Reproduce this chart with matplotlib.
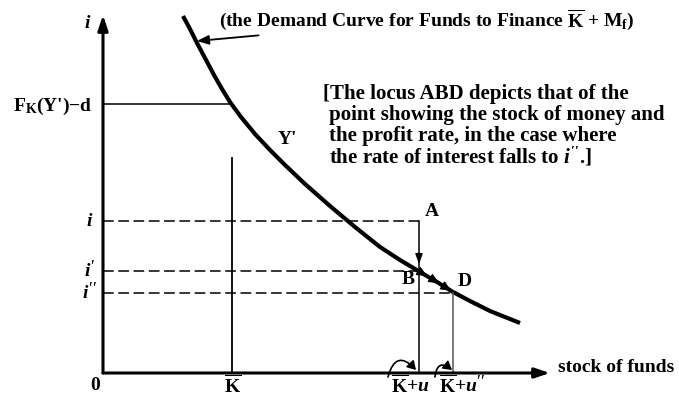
import numpy as np
import matplotlib
matplotlib.use("Agg")
import matplotlib.pyplot as plt
from matplotlib.patches import FancyArrowPatch

plt.rcParams['font.family'] = ['Liberation Serif', 'DejaVu Serif']
plt.rcParams['mathtext.fontset'] = 'custom'
plt.rcParams['mathtext.rm'] = 'Liberation Serif:bold'
plt.rcParams['mathtext.it'] = 'Liberation Serif:italic:bold'
plt.rcParams['mathtext.bf'] = 'Liberation Serif:bold'

# ---- data (stock of funds on x, rate on y; origin at 0) ----
curve_x = [80, 87, 94, 102, 111, 119, 127, 138, 152, 167, 182, 202, 227, 252, 277, 297, 317, 334, 350, 367, 387, 417]
curve_y = [357, 344, 330, 315, 298, 284, 271, 256, 239, 223, 208, 189, 167, 146, 126, 113, 101, 91, 81, 72, 62, 50]

rate_i, rate_i1, rate_i2 = 152, 102, 80
rate_FK = 269
stock_K, stock_Ku, stock_Ku2 = 129, 316, 350
stock_K_top = 215
x_max, y_max = 447, 358

rate_labels = [r"$i$", r"$i'$", r"$i''$"]
FK_label = r"F$_{\rm K}$(Y')$-$d"
stock_labels = [r"$\overline{\rm K}$", r"$\overline{\rm K}$+$u$", r"$\overline{\rm K}$+$u''$"]
note_lines = ["[The locus ABD depicts that of the",
              "point showing the stock of money and",
              "the profit rate, in the case where",
              r"the rate of interest falls to $i''$.]"]
title_text = r"(the Demand Curve for Funds to Finance $\overline{\rm K}$ + M$_{\rm f}$)"

W, H = 679, 395
fig = plt.figure(figsize=(W / 100, H / 100), dpi=100)
ax = fig.add_axes([0, 0, 1, 1])
ax.set_xlim(-103, W - 103)
ax.set_ylim(-(H - 373), 373)
ax.axis('off')

fs = 14
k = 'black'
tk = dict(fontweight='bold', color=k)

# axes with arrows
for tip in [(0, y_max), (x_max, 0)]:
    ax.annotate('', xy=tip, xytext=(0, 0),
                arrowprops=dict(arrowstyle='-|>,head_length=0.9,head_width=0.3', lw=2.2, color=k,
                                shrinkA=0, shrinkB=0))

# demand curve
ax.plot(curve_x, curve_y, color=k, lw=3.0, solid_capstyle='butt', solid_joinstyle='round')

# horizontal F_K line
fk_x = np.interp(rate_FK, curve_y[::-1], curve_x[::-1])
ax.plot([0, fk_x], [rate_FK, rate_FK], color=k, lw=1.1)

# K-bar vertical
ax.plot([stock_K, stock_K], [0, stock_K_top], color=k, lw=1.3)

# dashed rate lines
dash = (0, (7, 3))
ax.plot([0, stock_Ku], [rate_i, rate_i], color=k, lw=1.1, linestyle=dash)
ax.plot([0, stock_Ku], [rate_i1, rate_i1], color=k, lw=1.1, linestyle=dash)
ax.plot([0, stock_Ku2], [rate_i2, rate_i2], color=k, lw=1.1, linestyle=dash)

# vertical from A down, and from D down
ax.plot([stock_Ku, stock_Ku], [0, rate_i], color=k, lw=1.1)
ax.plot([stock_Ku2, stock_Ku2], [0, rate_i2], color='#555555', lw=1.1)

# locus arrows A->B->D
ax.annotate('', xy=(stock_Ku, rate_i1 + 7), xytext=(stock_Ku, rate_i1 + 18),
            arrowprops=dict(arrowstyle='-|>,head_length=0.6,head_width=0.22', lw=1, color=k,
                            shrinkA=0, shrinkB=0))
cx = np.array(curve_x, float)
cy = np.array(curve_y, float)
for xa in [324, 336, 348]:
    ya = np.interp(xa, cx, cy)
    xb = xa - 4
    yb = np.interp(xb, cx, cy)
    ax.annotate('', xy=(xa, ya), xytext=(xb, yb),
                arrowprops=dict(arrowstyle='-|>,head_length=0.6,head_width=0.28', lw=1, color=k,
                                shrinkA=0, shrinkB=0))

# labels
ax.text(-15, 350, r"$i$", fontsize=fs, ha='center', va='center', **tk)
ax.text(-11, rate_FK - 2, FK_label, fontsize=fs, ha='right', va='center', **tk)
for r, lab in zip([rate_i, rate_i1, rate_i2], rate_labels):
    ax.text(-13, r, lab, fontsize=fs, ha='center', va='center', **tk)
ax.text(-8, -12, "0", fontsize=fs, ha='center', va='center', **tk)
ax.text(stock_K + 1, -12, stock_labels[0], fontsize=fs, ha='center', va='center', **tk)
ax.text(stock_Ku - 9, -12, stock_labels[1], fontsize=fs, ha='center', va='center', **tk)
ax.text(stock_Ku2 + 9, -12, stock_labels[2], fontsize=fs, ha='center', va='center', **tk)
ax.text(x_max + 8, 5, "stock of funds", fontsize=fs, ha='left', va='center', **tk)

# curved arrows near stock labels
for x0, x1 in [(stock_Ku - 31, stock_Ku - 3), (stock_Ku2 - 18, stock_Ku2 - 1)]:
    ax.add_patch(FancyArrowPatch((x0, -4), (x1, 3), connectionstyle='arc3,rad=-0.9',
                                 arrowstyle='-|>,head_length=5,head_width=3', lw=1.2, color=k,
                                 shrinkA=0, shrinkB=0))

ax.text(stock_Ku + 6, rate_i + 9, "A", fontsize=fs, ha='left', va='center', **tk)
ax.text(stock_Ku - 11, rate_i1 - 9, "B", fontsize=fs, ha='center', va='center', **tk)
ax.text(stock_Ku2 + 12, rate_i2 + 11, "D", fontsize=fs, ha='center', va='center', **tk)
ax.text(184, 234, "Y'", fontsize=fs, ha='center', va='center', **tk)

ax.annotate(title_text, xy=(94, 332), xytext=(116, 353), fontsize=fs, ha='left', va='center',
            arrowprops=dict(arrowstyle='-|>,head_length=0.5,head_width=0.2', lw=1.3, color=k,
                            shrinkA=1, shrinkB=0), **tk)

note_y = [279, 258, 237.5, 216.5]
note_x = [220, 226, 226, 226]
for txt, yy, xx in zip(note_lines, note_y, note_x):
    ax.text(xx, yy, txt, fontsize=15, ha='left', va='center', **tk)

fig.savefig("out.png", dpi=100)
